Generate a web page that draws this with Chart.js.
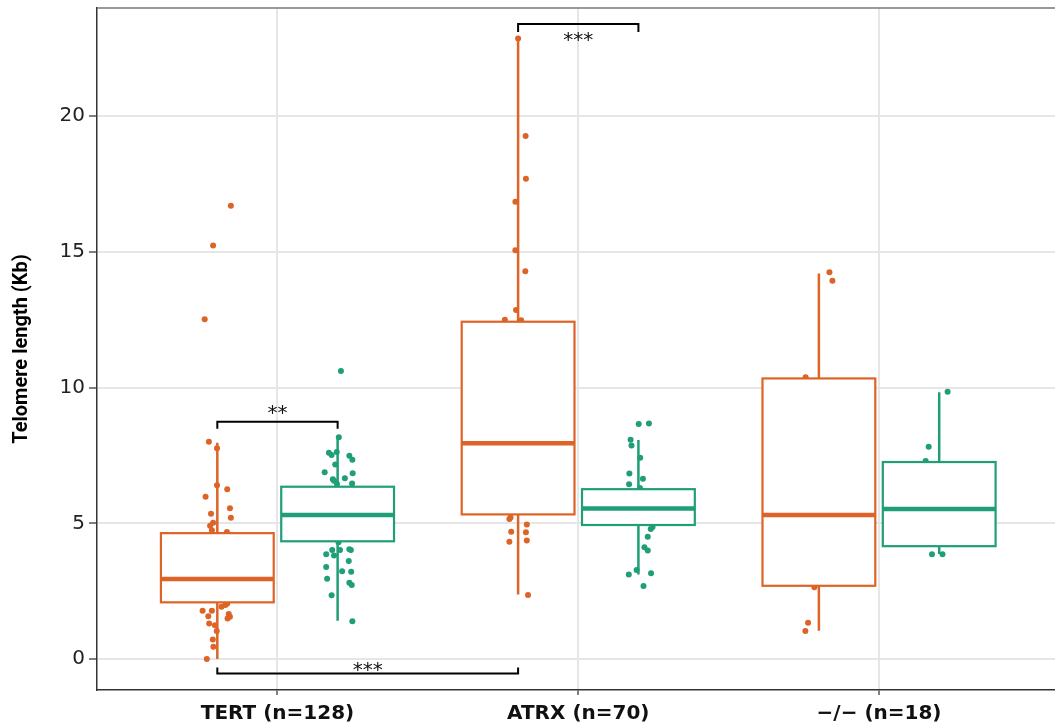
<!DOCTYPE html>
<html>
<head>
<meta charset="utf-8">
<script src="https://cdn.jsdelivr.net/npm/chart.js@4.4.1/dist/chart.umd.min.js"></script>
<style>
  html, body { margin: 0; padding: 0; background: #fff; overflow: hidden; }
</style>
</head>
<body>
<canvas id="myChart" width="1055" height="723"></canvas>
<script>
// CATEGORIAS Y TICKS
const categories = ['TERT (n=128)', 'ATRX (n=70)', '\u2212/\u2212 (n=18)'];
const yTicks = [0, 5, 10, 15, 20];

// CAJAS SERIE A (naranja): min, q1, mediana, q3, max
const setALow = [0, 2.38, 1.04];
const setAQ1 = [2.09, 5.33, 2.70];
const setAMedian = [2.95, 7.95, 5.31];
const setAQ3 = [4.64, 12.43, 10.34];
const setAHigh = [7.97, 22.87, 14.21];

// CAJAS SERIE B (verde)
const setBLow = [1.41, 3.12, 3.87];
const setBQ1 = [4.34, 4.94, 4.16];
const setBMedian = [5.31, 5.55, 5.53];
const setBQ3 = [6.35, 6.26, 7.26];
const setBHigh = [8.17, 8.07, 9.83];

// PUNTOS (x con jitter, valor)
const setAPoints = [
  // TERT
  [0.772, 8.01], [0.799, 7.77], [0.799, 6.40], [0.833, 6.26], [0.761, 5.98], [0.842, 5.56],
  [0.779, 5.35], [0.845, 5.21], [0.786, 5.02], [0.776, 4.91], [0.782, 4.75], [0.832, 4.68],
  [0.833, 2.05], [0.827, 1.99], [0.814, 1.93], [0.751, 1.78], [0.782, 1.78], [0.770, 1.58],
  [0.838, 1.66], [0.842, 1.56], [0.834, 1.49], [0.773, 1.31], [0.792, 1.25], [0.798, 1.03],
  [0.785, 0.72], [0.787, 0.45], [0.765, 0.0], [0.758, 12.52], [0.786, 15.24], [0.845, 16.70],
  // ATRX
  [1.800, 22.87], [1.825, 19.27], [1.826, 17.70], [1.791, 16.85], [1.791, 15.06], [1.824, 14.29],
  [1.793, 12.86], [1.756, 12.50], [1.810, 12.48], [1.775, 5.22], [1.771, 5.16], [1.829, 4.96],
  [1.777, 4.69], [1.826, 4.67], [1.771, 4.32], [1.829, 4.37], [1.833, 2.36],
  // -/-
  [2.835, 14.25], [2.845, 13.94], [2.756, 10.38], [2.785, 2.65], [2.764, 1.34], [2.755, 1.03]
];
const setBPoints = [
  // TERT
  [1.211, 10.61], [1.204, 8.17], [1.171, 7.60], [1.180, 7.52], [1.197, 7.63], [1.239, 7.49],
  [1.249, 7.34], [1.192, 7.17], [1.157, 6.88], [1.250, 6.85], [1.184, 6.63], [1.188, 6.57],
  [1.224, 6.66], [1.248, 6.47], [1.198, 6.45], [1.203, 4.30], [1.182, 4.02], [1.208, 4.02],
  [1.239, 4.05], [1.244, 4.02], [1.162, 3.86], [1.188, 3.82], [1.237, 3.61], [1.162, 3.39],
  [1.215, 3.24], [1.245, 3.22], [1.165, 2.96], [1.239, 2.81], [1.247, 2.73], [1.180, 2.35],
  [1.249, 1.39],
  // ATRX
  [2.201, 8.66], [2.235, 8.68], [2.174, 8.08], [2.177, 7.87], [2.206, 7.42], [2.170, 6.84],
  [2.215, 6.64], [2.169, 6.44], [2.205, 6.30], [2.247, 4.87], [2.241, 4.79], [2.231, 4.51],
  [2.220, 4.12], [2.231, 4.00], [2.194, 3.28], [2.168, 3.12], [2.242, 3.16], [2.217, 2.69],
  // -/-
  [3.228, 9.85], [3.165, 7.82], [3.155, 7.30], [3.176, 3.86], [3.211, 3.86]
];

// CORCHETES DE SIGNIFICANCIA
const bracketFrom = [0.8, 0.8, 1.8];
const bracketTo = [1.2, 1.8, 2.2];
const bracketLine = [8.74, -0.53, 23.40];
const bracketTip = [8.49, -0.31, 23.11];
const bracketText = ['**', '***', '***'];
const bracketTextY = [9.04, -0.44, 22.79];

const orange = '#DD6327';
const green = '#1F9E77';

// DIBUJAR CAJAS ENCIMA DE LOS PUNTOS
const boxPlugin = {
  id: 'boxes',
  afterDatasetsDraw(chart) {
    const c = chart.ctx;
    const x = chart.scales.x;
    const y = chart.scales.y;
    const area = chart.chartArea;
    const half = 0.1875;

    const sets = [
      { off: -0.2, color: orange, low: setALow, q1: setAQ1, med: setAMedian, q3: setAQ3, high: setAHigh },
      { off: 0.2, color: green, low: setBLow, q1: setBQ1, med: setBMedian, q3: setBQ3, high: setBHigh }
    ];

    c.save();
    c.beginPath();
    c.rect(area.left, area.top, area.right - area.left, area.bottom - area.top);
    c.clip();

    sets.forEach(s => {
      for (let i = 0; i < categories.length; i++) {
        const mid = i + 1 + s.off;
        const xc = x.getPixelForValue(mid);
        const xl = x.getPixelForValue(mid - half);
        const xr = x.getPixelForValue(mid + half);
        const yq1 = y.getPixelForValue(s.q1[i]);
        const yq3 = y.getPixelForValue(s.q3[i]);

        c.strokeStyle = s.color;
        c.lineWidth = 2.5;
        c.beginPath();
        c.moveTo(xc, y.getPixelForValue(s.high[i]));
        c.lineTo(xc, yq3);
        c.moveTo(xc, yq1);
        c.lineTo(xc, y.getPixelForValue(s.low[i]));
        c.stroke();

        c.fillStyle = '#fff';
        c.fillRect(xl, yq3, xr - xl, yq1 - yq3);
        c.lineWidth = 2.2;
        c.strokeRect(xl, yq3, xr - xl, yq1 - yq3);

        c.lineWidth = 4.5;
        c.beginPath();
        c.moveTo(xl, y.getPixelForValue(s.med[i]));
        c.lineTo(xr, y.getPixelForValue(s.med[i]));
        c.stroke();
      }
    });

    // corchetes
    c.strokeStyle = '#000';
    c.lineWidth = 2;
    c.fillStyle = '#111';
    c.font = '20px "DejaVu Sans"';
    c.textAlign = 'center';
    c.textBaseline = 'middle';
    for (let i = 0; i < bracketText.length; i++) {
      const x1 = x.getPixelForValue(bracketFrom[i]);
      const x2 = x.getPixelForValue(bracketTo[i]);
      const yl = y.getPixelForValue(bracketLine[i]);
      const yt = y.getPixelForValue(bracketTip[i]);
      c.beginPath();
      c.moveTo(x1, yt);
      c.lineTo(x1, yl);
      c.lineTo(x2, yl);
      c.lineTo(x2, yt);
      c.stroke();
      c.fillText(bracketText[i], (x1 + x2) / 2, y.getPixelForValue(bracketTextY[i]));
    }
    c.restore();

    // borde superior
    c.save();
    c.strokeStyle = '#777';
    c.lineWidth = 1.5;
    c.beginPath();
    c.moveTo(area.left, area.top);
    c.lineTo(area.right, area.top);
    c.stroke();
    c.restore();
  }
};

var ctx = document.getElementById('myChart').getContext('2d');

window.myChart = new Chart(ctx, {
  type: 'scatter',
  data: {
    datasets: [{
      label: 'A',
      data: setAPoints.map(p => ({ x: p[0], y: p[1] })),
      backgroundColor: orange,
      borderWidth: 0,
      pointRadius: 3
    }, {
      label: 'B',
      data: setBPoints.map(p => ({ x: p[0], y: p[1] })),
      backgroundColor: green,
      borderWidth: 0,
      pointRadius: 3
    }]
  },
  options: {
    responsive: false,
    animation: false,
    layout: { autoPadding: false, padding: { top: 8, right: 0, bottom: 0, left: 0 } },
    plugins: {
      legend: { display: false },
      tooltip: { enabled: false }
    },
    scales: {
      x: {
        type: 'linear',
        min: 0.4,
        max: 3.585,
        afterBuildTicks: s => { s.ticks = categories.map((_, i) => ({ value: i + 1 })); },
        afterFit: s => { s.height = 33; s.paddingLeft = 0; s.paddingRight = 0; },
        ticks: {
          autoSkip: false,
          maxRotation: 0,
          padding: 7,
          color: '#111',
          font: { family: 'DejaVu Sans', size: 20, weight: 'bold' },
          callback: v => categories[Math.round(v) - 1]
        },
        grid: { color: '#e6e6e6', lineWidth: 2, tickLength: 5, tickColor: '#555', tickWidth: 1.5 },
        border: { display: true, color: '#333', width: 1.5 }
      },
      y: {
        min: -1.14,
        max: 23.99,
        afterBuildTicks: s => { s.ticks = yTicks.map(v => ({ value: v })); },
        afterFit: s => { s.width = 97; s.paddingTop = 0; s.paddingBottom = 0; },
        ticks: {
          padding: 4,
          color: '#222',
          font: { family: 'DejaVu Sans', size: 20 }
        },
        grid: { color: '#e6e6e6', lineWidth: 2, tickLength: 8, tickColor: '#555', tickWidth: 1.5 },
        border: { display: true, color: '#333', width: 1.5 },
        title: {
          display: true,
          text: 'Telomere length (Kb)',
          color: '#000',
          padding: { top: 10, bottom: 0 },
          font: { family: 'Roboto', size: 20, weight: 'bold' }
        }
      }
    }
  },
  plugins: [boxPlugin]
});
</script>
</body>
</html>
